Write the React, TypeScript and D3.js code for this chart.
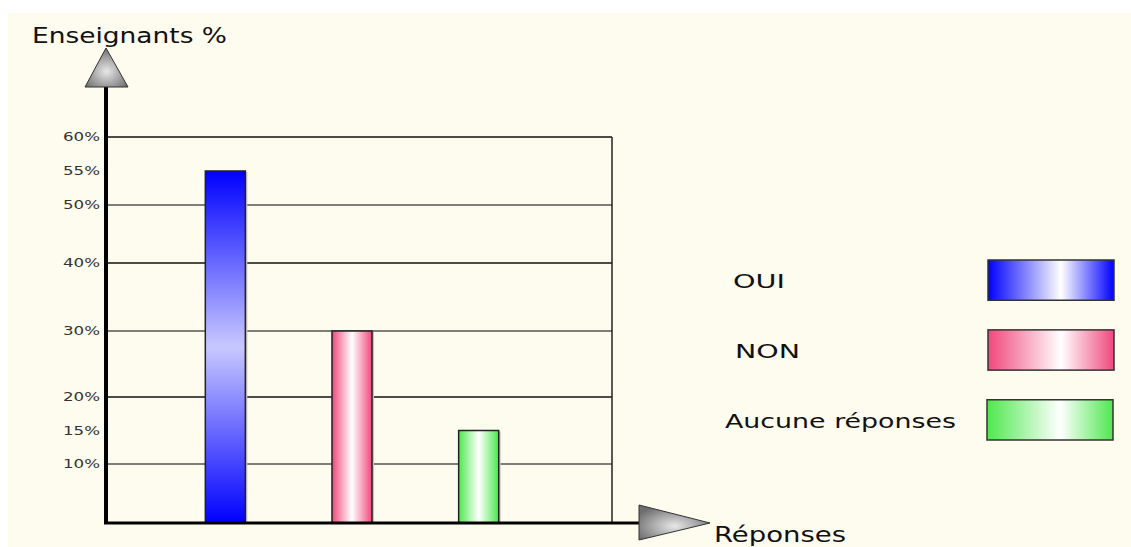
import * as d3 from "d3";

// categories and values (percent of teachers)
const categories = ["OUI", "NON", "Aucune réponses"];
const values = [55, 30, 15];
const gridTicks = [10, 20, 30, 40, 50, 60];
const labelTicks = [10, 15, 20, 30, 40, 50, 55, 60];

const edgeColors = ["#0000ff", "#f0487c", "#4ee84e"];
const midColors = ["#c8c8ff", "#ffffff", "#ffffff"];

const W = 1131;
const H = 547;

const App = () => {
  const left = 106;
  const right = 612;
  const bottom = 523;
  const top = 137;

  // the original gridlines are not evenly spaced, so the scale is piecewise
  const y = d3
    .scaleLinear()
    .domain([0, 10, 20, 30, 40, 50, 60])
    .range([bottom, 464, 397, 331, 263, 205, top]);

  const x = d3
    .scaleBand<string>()
    .domain(categories)
    .range([162, 542])
    .paddingInner(0.684)
    .paddingOuter(0.342);

  const legendY = d3
    .scaleBand<string>()
    .domain(categories)
    .range([260, 440])
    .paddingInner(0.424)
    .paddingOuter(0);

  const font = "'DejaVu Sans', Verdana, sans-serif";
  // the original picture is stretched sideways, so glyphs are widened to fit
  const legendWidths = [52, 65, 231];

  return (
    <svg
      width={W}
      height={H}
      style={{ position: "absolute", left: 0, top: 0 }}
      fontFamily={font}
    >
      <defs>
        <linearGradient id="g0" x1="0" y1="0" x2="0" y2="1">
          <stop offset="0" stopColor={edgeColors[0]} />
          <stop offset="0.5" stopColor={midColors[0]} />
          <stop offset="1" stopColor={edgeColors[0]} />
        </linearGradient>
        {[1, 2].map((i) => (
          <linearGradient key={i} id={`g${i}`} x1="0" y1="0" x2="1" y2="0">
            <stop offset="0" stopColor={edgeColors[i]} />
            <stop offset="0.5" stopColor={midColors[i]} />
            <stop offset="1" stopColor={edgeColors[i]} />
          </linearGradient>
        ))}
        {edgeColors.map((c, i) => (
          <linearGradient key={i} id={`l${i}`} x1="0" y1="0" x2="1" y2="0">
            <stop offset="0" stopColor={c} />
            <stop offset="0.58" stopColor="#ffffff" />
            <stop offset="1" stopColor={c} />
          </linearGradient>
        ))}
        <radialGradient id="arrow" cx="0.5" cy="0.6" r="0.6">
          <stop offset="0" stopColor="#e8e8e8" />
          <stop offset="1" stopColor="#6e6e6e" />
        </radialGradient>
      </defs>

      <rect x={8} y={13} width={W - 8} height={H - 13} fill="#fefbef" />

      {/* grid */}
      {gridTicks.map((t) => (
        <line
          key={t}
          x1={left}
          x2={right}
          y1={y(t)}
          y2={y(t)}
          stroke={t % 20 === 0 ? "#111" : "#555"}
          strokeWidth={1.3}
        />
      ))}
      <line x1={right} x2={right} y1={top} y2={bottom} stroke="#222" strokeWidth={1.5} />

      {/* tick labels */}
      {labelTicks.map((t) => (
        <text
          key={t}
          x={100}
          y={y(t)}
          dy="0.35em"
          textAnchor="end"
          fontSize={12.5}
          fill="#333"
          textLength={37}
          lengthAdjust="spacingAndGlyphs"
        >
          {t}%
        </text>
      ))}

      {/* bars */}
      {categories.map((c, i) => {
        const bx = x(c)!;
        const bw = x.bandwidth();
        const by = y(values[i]);
        return (
          <g key={c}>
            <rect x={bx + 2} y={by + 1} width={bw} height={bottom - by} fill="#c8c4b8" />
            <rect
              x={bx}
              y={by}
              width={bw}
              height={bottom - by}
              fill={`url(#g${i})`}
              stroke="#222"
              strokeWidth={1.5}
            />
          </g>
        );
      })}

      {/* axes */}
      <line x1={left} x2={left} y1={86} y2={bottom + 1} stroke="#000" strokeWidth={4} />
      <line x1={left - 2} x2={640} y1={bottom} y2={bottom} stroke="#000" strokeWidth={3} />
      <path
        d={`M${left},48 L${left + 22},87 L${left - 21},87 Z`}
        fill="url(#arrow)"
        stroke="#333"
        strokeWidth={1}
      />
      <path
        d={`M639,505 L710,${bottom} L639,540 Z`}
        fill="url(#arrow)"
        stroke="#333"
        strokeWidth={1}
      />

      <text x={32} y={43} fontSize={20.5} fill="#111" textLength={195} lengthAdjust="spacingAndGlyphs">
        Enseignants %
      </text>
      <text x={714} y={542} fontSize={20.5} fill="#111" textLength={132} lengthAdjust="spacingAndGlyphs">
        Réponses
      </text>

      {/* legend */}
      {categories.map((c, i) => {
        const ly = legendY(c)!;
        const lh = legendY.bandwidth();
        return (
          <g key={c}>
            <text
              x={i === 2 ? 725 : 733 + i * 2}
              y={ly + lh / 2 + 1}
              dy="0.35em"
              fontSize={19}
              fill="#111"
              textLength={legendWidths[i]}
              lengthAdjust="spacingAndGlyphs"
            >
              {c}
            </text>
            <rect
              x={988 - (i === 2 ? 1 : 0)}
              y={ly}
              width={126}
              height={lh}
              fill={`url(#l${i})`}
              stroke="#333"
              strokeWidth={1.5}
            />
          </g>
        );
      })}
    </svg>
  );
};

export default App;
